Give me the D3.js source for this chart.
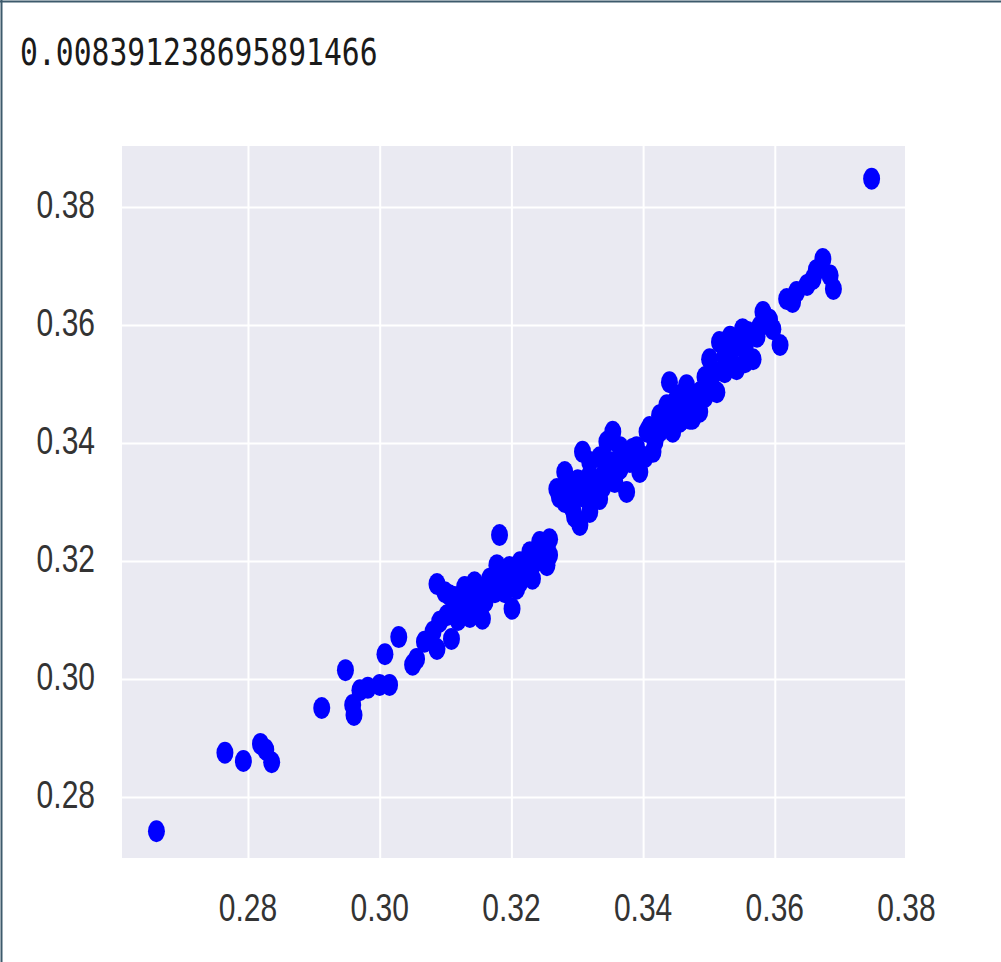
<!DOCTYPE html>
<html>
<head>
<meta charset="utf-8">
<script src="https://cdn.jsdelivr.net/npm/d3@7"></script>
<style>
  body { margin: 0; background: #fff; }
  svg { display: block; }
</style>
</head>
<body>
<div id="chart"></div>
<script>
// printed score above the plot
const scoreText = "0.008391238695891466";

const xTicks = [0.28, 0.30, 0.32, 0.34, 0.36, 0.38];
const yTicks = [0.28, 0.30, 0.32, 0.34, 0.36, 0.38];

const actual = [
  0.2661, 0.2765, 0.2793, 0.2819, 0.2827, 0.2836, 0.2912, 0.2948, 0.2959, 0.2961,
  0.2970, 0.2982, 0.3000, 0.3015, 0.3008, 0.3029, 0.3050, 0.3056, 0.3081, 0.3087,
  0.3087, 0.3099, 0.3102, 0.3109, 0.3106, 0.3122, 0.3132, 0.3144, 0.3156, 0.3152,
  0.3167, 0.3178, 0.3182, 0.3193, 0.3201, 0.3208, 0.3213, 0.3228, 0.3232, 0.3243,
  0.3254, 0.3258, 0.3258, 0.3247, 0.3223, 0.3190, 0.3175, 0.3137, 0.3119, 0.3068,
  0.3129, 0.3160, 0.3144, 0.3197, 0.3220, 0.3213, 0.3236, 0.3114, 0.3091,
  0.3269, 0.3284, 0.3293, 0.3304, 0.3308, 0.3319, 0.3334, 0.3345, 0.3354, 0.3365,
  0.3375, 0.3384, 0.3395, 0.3406, 0.3415, 0.3425, 0.3436, 0.3445, 0.3456, 0.3471,
  0.3481, 0.3506, 0.3440, 0.3451, 0.3466, 0.3475, 0.3460, 0.3501, 0.3512, 0.3516,
  0.3532, 0.3542, 0.3551, 0.3567, 0.3582, 0.3597, 0.3608, 0.3618, 0.3633, 0.3649,
  0.3658, 0.3673, 0.3684, 0.3689, 0.3747,
  0.3281, 0.3296, 0.3311, 0.3327, 0.3342, 0.3357, 0.3334, 0.3349, 0.3365, 0.3380,
  0.3403, 0.3418, 0.3433, 0.3448, 0.3463, 0.3486, 0.3494, 0.3524, 0.3539, 0.3555,
  0.3577, 0.3592, 0.3627, 0.3663, 0.3296, 0.3319, 0.3273, 0.3486, 0.3509, 0.3555,
  0.3532, 0.3573,
  0.3281, 0.3301, 0.3322, 0.3339, 0.3353, 0.3372, 0.3390, 0.3410, 0.3425, 0.3440,
  0.3456, 0.3474, 0.3494, 0.3524, 0.3559, 0.3213, 0.3182, 0.3160, 0.3114, 0.3243,
  0.3319, 0.3288
];

const predicted = [
  0.2742, 0.2875, 0.2861, 0.2890, 0.2880, 0.2859, 0.2951, 0.3015, 0.2956, 0.2939,
  0.2981, 0.2985, 0.2990, 0.2990, 0.3042, 0.3071, 0.3024, 0.3034, 0.3080, 0.3051,
  0.3161, 0.3147, 0.3108, 0.3068, 0.3142, 0.3125, 0.3136, 0.3119, 0.3102, 0.3147,
  0.3170, 0.3193, 0.3244, 0.3170, 0.3119, 0.3153, 0.3198, 0.3215, 0.3170, 0.3232,
  0.3193, 0.3237, 0.3210, 0.3224, 0.3181, 0.3147, 0.3147, 0.3105, 0.3100, 0.3063,
  0.3156, 0.3131, 0.3164, 0.3190, 0.3198, 0.3164, 0.3198, 0.3122, 0.3097,
  0.3322, 0.3334, 0.3288, 0.3261, 0.3385, 0.3346, 0.3305, 0.3402, 0.3419, 0.3356,
  0.3317, 0.3390, 0.3351, 0.3419, 0.3385, 0.3447, 0.3464, 0.3419, 0.3481, 0.3441,
  0.3470, 0.3492, 0.3503, 0.3475, 0.3498, 0.3441, 0.3441, 0.3542, 0.3486, 0.3571,
  0.3549, 0.3525, 0.3593, 0.3542, 0.3622, 0.3593, 0.3566, 0.3644, 0.3656, 0.3668,
  0.3678, 0.3712, 0.3684, 0.3661, 0.3848,
  0.3300, 0.3317, 0.3308, 0.3334, 0.3351, 0.3334, 0.3376, 0.3368, 0.3393, 0.3368,
  0.3376, 0.3402, 0.3427, 0.3444, 0.3461, 0.3486, 0.3512, 0.3520, 0.3563, 0.3563,
  0.3597, 0.3609, 0.3639, 0.3693, 0.3275, 0.3283, 0.3308, 0.3453, 0.3520, 0.3537,
  0.3580, 0.3580,
  0.3351, 0.3337, 0.3320, 0.3325, 0.3351, 0.3376, 0.3393, 0.3427, 0.3419, 0.3453,
  0.3436, 0.3478, 0.3478, 0.3546, 0.3588, 0.3181, 0.3173, 0.3156, 0.3139, 0.3207,
  0.3368, 0.3308
];

const width = 1001;
const height = 962;
const plot = { left: 122, right: 905, top: 146, bottom: 858 };
const stretch = 1.27; // glyphs in the picture are taller than they are wide

const svg = d3.select("#chart")
  .append("svg")
  .attr("width", width)
  .attr("height", height);

// frame on the left and top edge
svg.append("line")
  .attr("x1", 1.5).attr("x2", 1.5).attr("y1", 0).attr("y2", height)
  .attr("stroke", "#3d5a6c").attr("stroke-width", 2);
svg.append("line")
  .attr("x1", 0).attr("x2", width).attr("y1", 1.5).attr("y2", 1.5)
  .attr("stroke", "#3d5a6c").attr("stroke-width", 2);

svg.append("text")
  .attr("transform", `translate(20,65) scale(1,${stretch})`)
  .attr("font-family", "DejaVu Sans Mono")
  .attr("font-size", 29.7)
  .attr("fill", "#1a1a1a")
  .text(scoreText);

const x = d3.scaleLinear().domain([0.26087, 0.37977]).range([plot.left, plot.right]);
const y = d3.scaleLinear().domain([0.26966, 0.39034]).range([plot.bottom, plot.top]);

svg.append("rect")
  .attr("x", plot.left)
  .attr("y", plot.top)
  .attr("width", plot.right - plot.left)
  .attr("height", plot.bottom - plot.top)
  .attr("fill", "#eaeaf2");

const gridX = svg.append("g")
  .attr("transform", `translate(0,${plot.bottom})`)
  .call(d3.axisBottom(x).tickValues(xTicks.filter(t => x(t) <= plot.right)).tickSize(-(plot.bottom - plot.top)).tickFormat(""));
gridX.select(".domain").remove();
gridX.selectAll("line").attr("stroke", "#fff").attr("stroke-width", 2);

const gridY = svg.append("g")
  .attr("transform", `translate(${plot.left},0)`)
  .call(d3.axisLeft(y).tickValues(yTicks).tickSize(-(plot.right - plot.left)).tickFormat(""));
gridY.select(".domain").remove();
gridY.selectAll("line").attr("stroke", "#fff").attr("stroke-width", 2);

// tick labels
svg.append("g")
  .selectAll("text")
  .data(xTicks)
  .join("text")
  .attr("transform", d => `translate(${x(d)},921) scale(1,${stretch})`)
  .attr("text-anchor", "middle")
  .attr("font-family", "Liberation Sans, Arial, sans-serif")
  .attr("font-size", 30)
  .attr("fill", "#333")
  .text(d => d.toFixed(2));

svg.append("g")
  .selectAll("text")
  .data(yTicks)
  .join("text")
  .attr("transform", d => `translate(95,${y(d) + 11}) scale(1,${stretch})`)
  .attr("text-anchor", "end")
  .attr("font-family", "Liberation Sans, Arial, sans-serif")
  .attr("font-size", 30)
  .attr("fill", "#333")
  .text(d => d.toFixed(2));

const points = actual.map((a, i) => ({ a, p: predicted[i] }));

svg.append("g")
  .selectAll("ellipse")
  .data(points)
  .join("ellipse")
  .attr("cx", d => x(d.a))
  .attr("cy", d => y(d.p))
  .attr("rx", 8.5)
  .attr("ry", 11)
  .attr("fill", "#0000ff");
</script>
</body>
</html>
